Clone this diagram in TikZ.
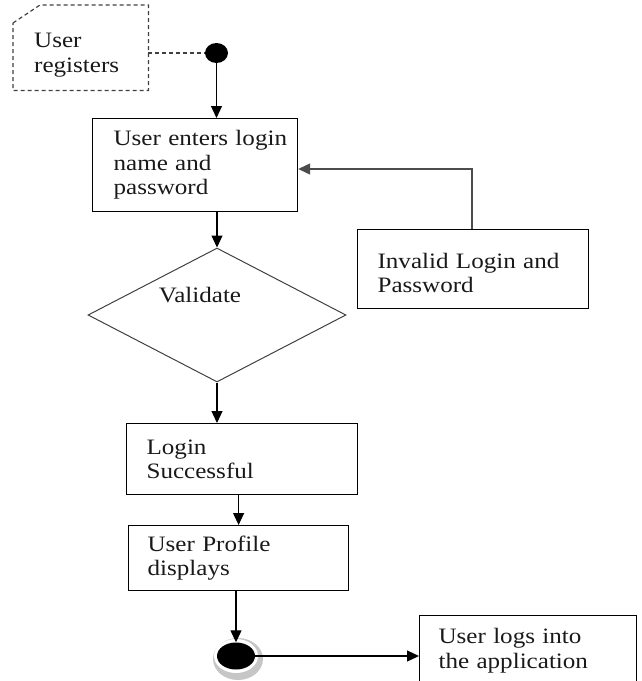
\documentclass[tikz,border=0pt]{standalone}
\usepackage{fontspec}
\setmainfont{Liberation Serif}[FakeStretch=1.14]
\usetikzlibrary{shapes.geometric,arrows.meta}
\begin{document}
\begin{tikzpicture}[x=1pt,y=-1pt,
  txt/.style={font=\fontsize{22}{24.5}\selectfont, text=black!90},
  box/.style={txt, draw, line width=1.2pt, anchor=north west, align=left, inner xsep=0pt, inner ysep=0pt},
  arr/.style={line width=1.2pt, -{Triangle[length=12pt,width=11pt]}},
  notedash/.style={draw=black!75, line width=1.2pt, dash pattern=on 4pt off 3pt},
]
\useasboundingbox (0,0) rectangle (641,681);
\clip (0,0) rectangle (641,681);

% note
\node[txt, anchor=north west, minimum width=135pt, minimum height=70pt, text width=93pt, align=left, inner sep=0pt] (note) at (13,20) {User\\registers};
\draw[notedash] ([yshift=-3pt]note.north west) -- ([xshift=27pt,yshift=15pt]note.north west) -- ([yshift=15pt]note.north east) -- (note.south east) -- (note.south west) -- cycle;

% start
\node[ellipse, fill=black, minimum width=23pt, minimum height=20pt, inner sep=0pt] (start) at (216.5,53) {};

% boxes
\node[box, minimum width=205pt, minimum height=93pt, text width=163pt] (login1) at (92,118) {\mbox{User enters login}\\name and\\password};
\node[box, minimum width=231pt, minimum height=79pt, text width=191pt, text depth=17pt] (inv) at (357,229) {Invalid Login and\\Password};
\node[diamond, draw=black!75, line width=1pt, minimum width=258pt, minimum height=134pt, inner sep=0pt,
  label={[txt, name=vt, xshift=-17pt, yshift=20pt]center:Validate}] (dia) at (217,315) {};
\node[box, minimum width=231pt, minimum height=71pt, text width=191pt] (succ) at (126,423) {Login\\Successful};
\node[box, minimum width=220pt, minimum height=65pt, text width=182pt] (prof) at (128,525) {User Profile\\displays};

% end
\fill[gray!45] (238,659) ellipse [x radius=25pt, y radius=21pt];
\fill[white] (236,656) ellipse [x radius=22pt, y radius=17pt];
\node[ellipse, fill=black, minimum width=38pt, minimum height=27pt, inner sep=0pt] (endc) at (236,656) {};
\node[box, minimum width=217pt, minimum height=70pt, text width=179pt] (final) at (419,615) {User logs into\\the application};

% connectors
\draw[notedash] (note.east |- start) -- (start.west);
\draw[arr] (start.south) -- (start.south |- login1.north);
\draw[arr] (login1.south -| dia.north) -- (dia.north);
\draw[arr] (dia.south) -- (dia.south |- succ.north);
\draw[arr] (succ.south -| prof.north) -- (prof.north);
\draw[arr] (prof.south -| endc.north) -- (endc.north);
\draw[arr] (endc.east) -- (endc.east -| final.west);
\coordinate (fb) at (472,169);
\draw[arr, draw=black!70] (inv.north -| fb) -- (fb) -- (fb -| login1.east);
\end{tikzpicture}
\end{document}
